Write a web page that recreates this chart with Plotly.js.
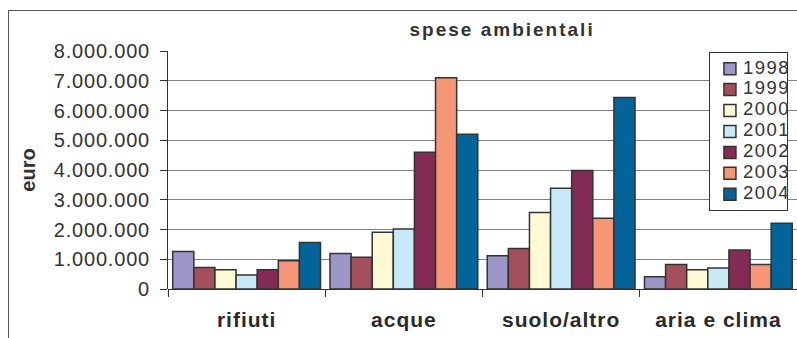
<!DOCTYPE html>
<html><head><meta charset="utf-8">
<script src="https://cdn.plot.ly/plotly-3.0.1.min.js"></script>
<style>
html,body{margin:0;padding:0;background:#fff;}
#wrap{position:relative;width:797px;height:338px;overflow:hidden;}
#frame{position:absolute;left:8px;top:10px;width:800px;height:340px;border:1px solid #555;box-sizing:border-box;pointer-events:none;}
#chart .gtitle{letter-spacing:2px;}
#chart .xtick text{letter-spacing:1px;}
#chart .ytick text{letter-spacing:0.8px;}
#chart .legendtext{font-size:18.5px !important;letter-spacing:1.5px;transform:translate(-7px,-0.5px);}
</style>
</head><body><div id="wrap"><div id="chart" style="width:797px;height:338px;"></div><div id="frame"></div></div>
<script>
var categories = ["rifiuti", "acque", "suolo/altro", "aria e clima"];
var years = ["1998", "1999", "2000", "2001", "2002", "2003", "2004"];
var v1998 = [1260000, 1190000, 1120000, 410000];
var v1999 = [720000, 1070000, 1360000, 820000];
var v2000 = [650000, 1910000, 2570000, 650000];
var v2001 = [470000, 2020000, 3390000, 710000];
var v2002 = [650000, 4600000, 3980000, 1310000];
var v2003 = [950000, 7100000, 2380000, 820000];
var v2004 = [1560000, 5200000, 6440000, 2210000];
var seriesValues = [v1998, v1999, v2000, v2001, v2002, v2003, v2004];
var colors = ["#9d96c8", "#a4505c", "#fff9d4", "#c8e9f8", "#832a55", "#f59776", "#03649a"];
var tickVals = [0,1000000,2000000,3000000,4000000,5000000,6000000,7000000,8000000];
var tickText = ["0","1.000.000","2.000.000","3.000.000","4.000.000","5.000.000","6.000.000","7.000.000","8.000.000"];

var traces = years.map(function(y, i){
  return {type:"bar", name:y, x:categories, y:seriesValues[i],
    marker:{color:colors[i], line:{color:"#333333", width:1.5}}};
});
var layout = {
  width:797, height:338,
  margin:{l:168, r:0, t:51, b:49, pad:0},
  paper_bgcolor:"#ffffff", plot_bgcolor:"#ffffff",
  font:{family:"Liberation Sans, Arial, sans-serif", color:"#333333"},
  title:{text:"<b>spese ambientali</b>", x:0.63, xanchor:"center", y:0.914, yanchor:"middle", font:{size:19, color:"#333333"}},
  barmode:"group", bargap:0.06, bargroupgap:0,
  xaxis:{type:"category", tickson:"boundaries", ticks:"outside", ticklen:7, tickcolor:"#333",
    showline:false, showgrid:false, tickfont:{size:21, color:"#2a2a2a", weight:"bold"}, ticklabelstandoff:16},
  yaxis:{range:[0,8000000], tickvals:tickVals, ticktext:tickText, ticks:"outside", ticklen:7, tickcolor:"#333",
    showline:true, linecolor:"#333", linewidth:1, showgrid:true, gridcolor:"#808080", gridwidth:1,
    zeroline:true, zerolinecolor:"#333", zerolinewidth:1,
    tickfont:{size:20, color:"#333"}, ticklabelstandoff:6,
    title:{text:"<b>euro</b>", font:{size:20, color:"#333"}, standoff:20}},
  legend:{x:0.86, xanchor:"left", y:0.995, yanchor:"top", bgcolor:"#ffffff", bordercolor:"#333", borderwidth:1,
    font:{size:13.8, color:"#333"}, tracegroupgap:0, itemwidth:30},
  showlegend:true
};
Plotly.newPlot("chart", traces, layout, {staticPlot:true, displayModeBar:false});
</script>
</body></html>
